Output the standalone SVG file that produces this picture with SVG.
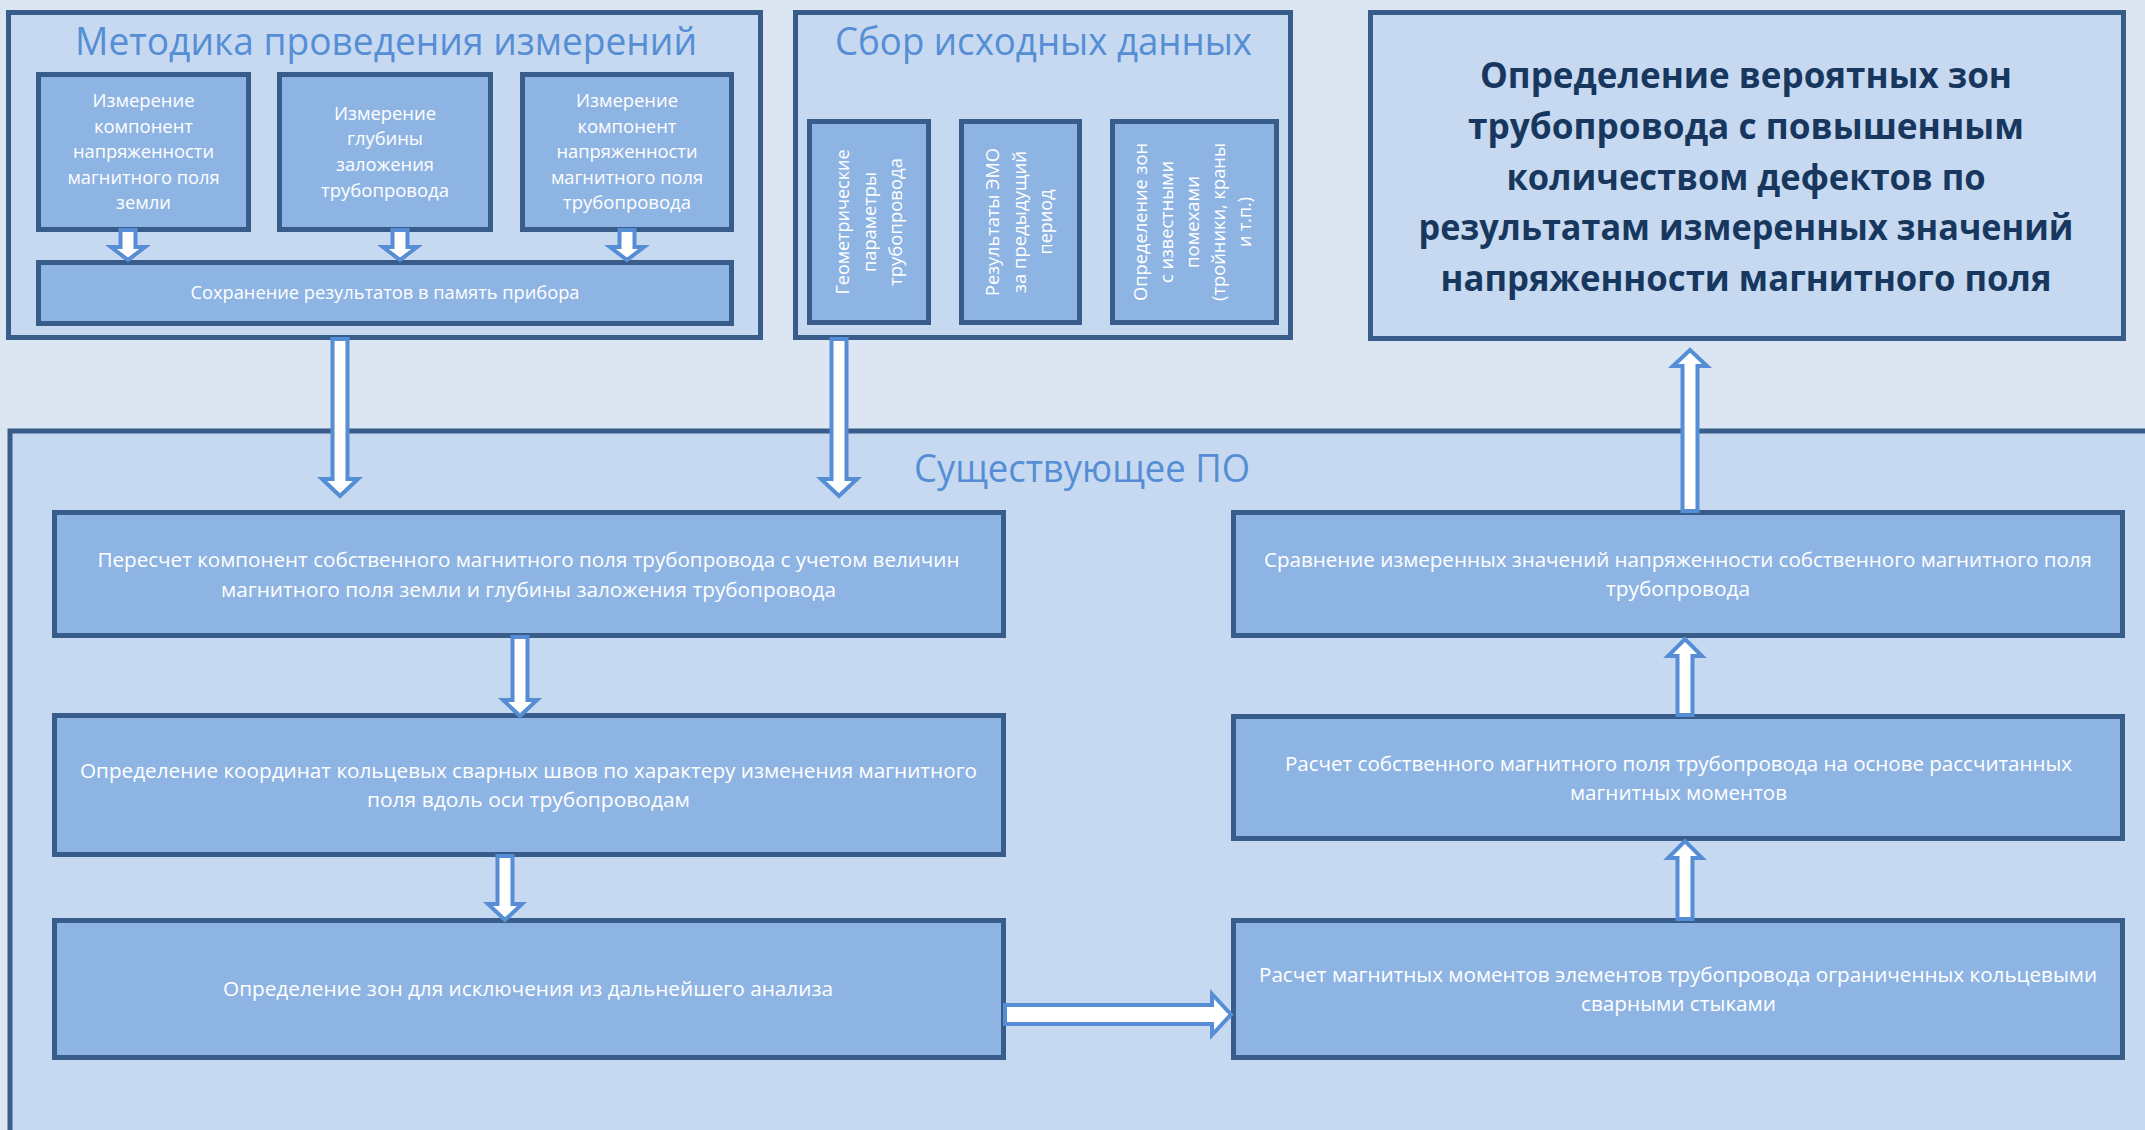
<svg xmlns="http://www.w3.org/2000/svg" width="2145" height="1130" viewBox="0 0 2145 1130">
<style>
.bg{fill:#DCE6F2}
.grp{fill:#C6D9F1;stroke:#385D8A;stroke-width:5}
.box{fill:#8EB4E3;stroke:#385D8A;stroke-width:5}
.t{font-family:"Open Sans","Noto Sans","DejaVu Sans",sans-serif;fill:#FFFFFF;text-anchor:middle}
.s{font-size:19px}
.m{font-size:20px}
.title{font-family:"Open Sans","Noto Sans","DejaVu Sans",sans-serif;fill:#558ED5;font-size:38px;text-anchor:middle}
.big{font-family:"Open Sans","Noto Sans","DejaVu Sans",sans-serif;fill:#17375E;font-size:36px;font-weight:bold;text-anchor:middle}
.arr{fill:#FFFFFF;stroke:#558ED5;stroke-width:4;stroke-linejoin:miter}
</style>
<rect class="bg" x="0" y="0" width="2145" height="1130"/>

<g id="existing-software">
<rect class="grp" x="10" y="431" width="2200" height="800"/>
<text class="title" x="1082" y="482" textLength="336" lengthAdjust="spacingAndGlyphs">Существующее ПО</text>
</g>

<g id="methodology">
<rect class="grp" x="8.5" y="12.5" width="752" height="325"/>
<text class="title" x="386" y="55" textLength="622" lengthAdjust="spacingAndGlyphs">Методика проведения измерений</text>
</g>
<g id="m1">
<rect class="box" x="38.5" y="74.5" width="210" height="155"/>
<text class="t s"><tspan x="143.5" y="107" textLength="102" lengthAdjust="spacingAndGlyphs">Измерение</tspan><tspan x="143.5" y="133" textLength="99" lengthAdjust="spacingAndGlyphs">компонент</tspan><tspan x="143.5" y="158" textLength="141" lengthAdjust="spacingAndGlyphs">напряженности</tspan><tspan x="143.5" y="184" textLength="152" lengthAdjust="spacingAndGlyphs">магнитного поля</tspan><tspan x="143.5" y="209" textLength="55" lengthAdjust="spacingAndGlyphs">земли</tspan></text>
</g>
<g id="m2">
<rect class="box" x="279.5" y="74.5" width="211" height="155"/>
<text class="t s"><tspan x="385" y="120" textLength="102" lengthAdjust="spacingAndGlyphs">Измерение</tspan><tspan x="385" y="145" textLength="76" lengthAdjust="spacingAndGlyphs">глубины</tspan><tspan x="385" y="171" textLength="98" lengthAdjust="spacingAndGlyphs">заложения</tspan><tspan x="385" y="197" textLength="128" lengthAdjust="spacingAndGlyphs">трубопровода</tspan></text>
</g>
<g id="m3">
<rect class="box" x="522.5" y="74.5" width="209" height="155"/>
<text class="t s"><tspan x="627" y="107" textLength="102" lengthAdjust="spacingAndGlyphs">Измерение</tspan><tspan x="627" y="133" textLength="99" lengthAdjust="spacingAndGlyphs">компонент</tspan><tspan x="627" y="158" textLength="141" lengthAdjust="spacingAndGlyphs">напряженности</tspan><tspan x="627" y="184" textLength="152" lengthAdjust="spacingAndGlyphs">магнитного поля</tspan><tspan x="627" y="209" textLength="128" lengthAdjust="spacingAndGlyphs">трубопровода</tspan></text>
</g>
<g id="m-save">
<rect class="box" x="38.5" y="262.5" width="693" height="61"/>
<text class="t s" x="385" y="299" textLength="389" lengthAdjust="spacingAndGlyphs">Сохранение результатов в память прибора</text>
</g>

<g id="input-data">
<rect class="grp" x="795.5" y="12.5" width="495" height="325"/>
<text class="title" x="1043.5" y="55" textLength="417" lengthAdjust="spacingAndGlyphs">Сбор исходных данных</text>
</g>
<g id="d1">
<rect class="box" x="809.5" y="121.5" width="119" height="201"/>
<text class="t s" x="849" y="222" transform="rotate(-90 849 222)" textLength="145" lengthAdjust="spacingAndGlyphs">Геометрические</text>
<text class="t s" x="875.5" y="222" transform="rotate(-90 875.5 222)" textLength="100" lengthAdjust="spacingAndGlyphs">параметры</text>
<text class="t s" x="902" y="222" transform="rotate(-90 902 222)" textLength="128" lengthAdjust="spacingAndGlyphs">трубопровода</text>
</g>
<g id="d2">
<rect class="box" x="961.5" y="121.5" width="118" height="201"/>
<text class="t s" x="999" y="222" transform="rotate(-90 999 222)" textLength="148" lengthAdjust="spacingAndGlyphs">Результаты ЭМО</text>
<text class="t s" x="1025.5" y="222" transform="rotate(-90 1025.5 222)" textLength="142" lengthAdjust="spacingAndGlyphs">за предыдущий</text>
<text class="t s" x="1052" y="222" transform="rotate(-90 1052 222)" textLength="65" lengthAdjust="spacingAndGlyphs">период</text>
</g>
<g id="d3">
<rect class="box" x="1112.5" y="121.5" width="164" height="201"/>
<text class="t s" x="1147" y="222" transform="rotate(-90 1147 222)" textLength="158" lengthAdjust="spacingAndGlyphs">Определение зон</text>
<text class="t s" x="1173" y="222" transform="rotate(-90 1173 222)" textLength="122" lengthAdjust="spacingAndGlyphs">с известными</text>
<text class="t s" x="1199" y="222" transform="rotate(-90 1199 222)" textLength="92" lengthAdjust="spacingAndGlyphs">помехами</text>
<text class="t s" x="1225" y="222" transform="rotate(-90 1225 222)" textLength="158" lengthAdjust="spacingAndGlyphs">(тройники, краны</text>
<text class="t s" x="1251" y="222" transform="rotate(-90 1251 222)" textLength="50" lengthAdjust="spacingAndGlyphs">и т.п.)</text>
</g>

<g id="result">
<rect class="grp" x="1370.5" y="12.5" width="753" height="326"/>
<text class="big"><tspan x="1746" y="88" textLength="532" lengthAdjust="spacingAndGlyphs">Определение вероятных зон</tspan><tspan x="1746" y="139" textLength="556" lengthAdjust="spacingAndGlyphs">трубопровода с повышенным</tspan><tspan x="1746" y="189.5" textLength="479" lengthAdjust="spacingAndGlyphs">количеством дефектов по</tspan><tspan x="1746" y="240" textLength="655" lengthAdjust="spacingAndGlyphs">результатам измеренных значений</tspan><tspan x="1746" y="291" textLength="611" lengthAdjust="spacingAndGlyphs">напряженности магнитного поля</tspan></text>
</g>

<g id="l1">
<rect class="box" x="54.5" y="512.5" width="949" height="123"/>
<text class="t m"><tspan x="528.5" y="567" textLength="862" lengthAdjust="spacingAndGlyphs">Пересчет компонент собственного магнитного поля трубопровода с учетом величин</tspan><tspan x="528.5" y="597" textLength="615" lengthAdjust="spacingAndGlyphs">магнитного поля земли и глубины заложения трубопровода</tspan></text>
</g>
<g id="l2">
<rect class="box" x="54.5" y="715.5" width="949" height="139"/>
<text class="t m"><tspan x="528.5" y="778" textLength="897" lengthAdjust="spacingAndGlyphs">Определение координат кольцевых сварных швов по характеру изменения магнитного</tspan><tspan x="528.5" y="807" textLength="323" lengthAdjust="spacingAndGlyphs">поля вдоль оси трубопроводам</tspan></text>
</g>
<g id="l3">
<rect class="box" x="54.5" y="920.5" width="949" height="137"/>
<text class="t m" x="528" y="996" textLength="610" lengthAdjust="spacingAndGlyphs">Определение зон для исключения из дальнейшего анализа</text>
</g>
<g id="r1">
<rect class="box" x="1233.5" y="512.5" width="889" height="123"/>
<text class="t m"><tspan x="1678" y="567" textLength="828" lengthAdjust="spacingAndGlyphs">Сравнение измеренных значений напряженности собственного магнитного поля</tspan><tspan x="1678" y="596" textLength="144" lengthAdjust="spacingAndGlyphs">трубопровода</tspan></text>
</g>
<g id="r2">
<rect class="box" x="1233.5" y="716.5" width="889" height="122"/>
<text class="t m"><tspan x="1678.5" y="771" textLength="787" lengthAdjust="spacingAndGlyphs">Расчет собственного магнитного поля трубопровода на основе рассчитанных</tspan><tspan x="1678.5" y="800" textLength="217" lengthAdjust="spacingAndGlyphs">магнитных моментов</tspan></text>
</g>
<g id="r3">
<rect class="box" x="1233.5" y="920.5" width="889" height="137"/>
<text class="t m"><tspan x="1678" y="982" textLength="838" lengthAdjust="spacingAndGlyphs">Расчет магнитных моментов элементов трубопровода ограниченных кольцевыми</tspan><tspan x="1678.5" y="1011" textLength="195" lengthAdjust="spacingAndGlyphs">сварными стыками</tspan></text>
</g>

<g id="connectors">
<path class="arr" d="M120.5 230 V247 H111 L128 260 L145 247 H135.5 V230 Z"/>
<path class="arr" d="M392.5 230 V247 H383 L400 260 L417 247 H407.5 V230 Z"/>
<path class="arr" d="M619.5 230 V247 H610 L627 260 L644 247 H634.5 V230 Z"/>
<path class="arr" d="M332.5 339 V479 H322 L340 496 L358 479 H347.5 V339 Z"/>
<path class="arr" d="M831.5 339 V479 H821 L839 496 L857 479 H846.5 V339 Z"/>
<path class="arr" d="M512.5 637 V700 H503 L520 716 L537 700 H527.5 V637 Z"/>
<path class="arr" d="M497.5 856 V904 H488 L505 920 L522 904 H512.5 V856 Z"/>
<path class="arr" d="M1005 1005 H1212 V994 L1231 1014.5 L1212 1035 V1024 H1005 Z"/>
<path class="arr" d="M1677.5 919 V858 H1668 L1685 841 L1702 858 H1692.5 V919 Z"/>
<path class="arr" d="M1677.5 715 V656 H1668 L1685 639 L1702 656 H1692.5 V715 Z"/>
<path class="arr" d="M1682.5 511 V366 H1673 L1690 350 L1707 366 H1697.5 V511 Z"/>
</g>
</svg>
